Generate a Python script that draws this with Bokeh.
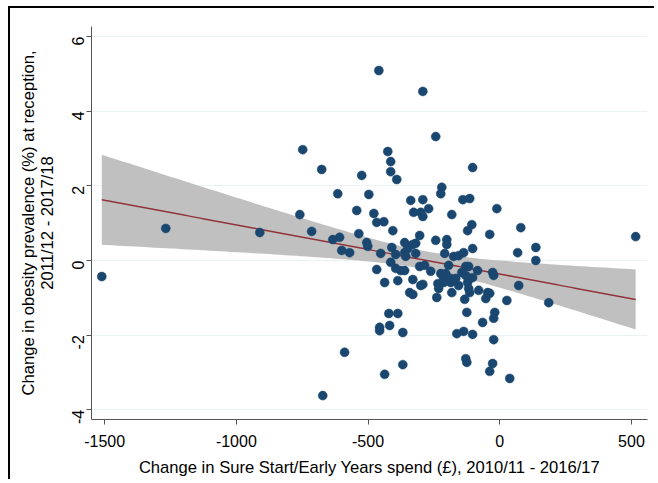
import math
import numpy as np
from bokeh.plotting import figure
from bokeh.models import ColumnDataSource, Range1d, FixedTicker
from bokeh.embed import file_html
from bokeh.resources import INLINE

# Change in Sure Start/Early Years spend (GBP), 2010/11 - 2016/17
spend_change = [
    -1511, -1268, -911, -748, -759, -714, -672, -676, 516, -459,
    -292, -243, -425, -414, -414, -391, -524, -103, -615, -497,
    -543, -478, -467, -440, -406, -338, -292, -327, -300, -270,
    -292, -220, -224, -182, -140, -114, -11, -122, -106, -38,
    80, 137, -243, -201, -201, -361, -319, -304, -608, -634,
    -535, -600, -570, -505, -501, -452, -410, -395, -361, -357,
    -319, -330, -349, -209, -175, -156, -137, -103, -467, -414,
    -395, -376, -361, -437, -387, -330, -292, -342, -330, -304,
    -285, -262, -224, -205, -194, -213, -186, -167, -235, -213,
    -186, -232, -182, -239, -156, -144, -129, -118, -129, -122,
    -118, -114, -103, -84, -80, -46, -53, -38, -27, -23,
    27, 68, 72, 137, 186, -133, -125, -19, -23, -65,
    -421, -387, -456, -456, -418, -368, -163, -137, -103, -23,
    -589, -129, -125, -27, -38, -368, -437, 38, -300,
]

# Change in obesity prevalence (%) at reception, 2011/12 - 2017/18
obesity_change = [
    -0.43, 0.86, 0.75, 2.97, 1.23, 0.78, -3.62, 2.44, 0.64, 5.09,
    4.53, 3.32, 2.92, 2.65, 2.38, 2.17, 2.28, 2.49, 1.79, 1.77,
    1.34, 1.26, 1.02, 1.04, 0.80, 1.61, 1.63, 1.29, 1.29, 1.39,
    1.18, 1.96, 1.79, 1.23, 1.63, 1.66, 1.39, 0.80, 0.96, 0.70,
    0.88, 0.35, 0.54, 0.56, 0.43, 0.48, 0.46, 0.67, 0.62, 0.56,
    0.72, 0.27, 0.21, 0.48, 0.38, 0.19, 0.35, 0.16, 0.21, 0.11,
    0.19, 0.43, 0.32, 0.19, 0.11, 0.13, 0.21, 0.32, -0.24, -0.05,
    -0.21, -0.27, -0.27, -0.59, -0.54, -0.51, -0.64, -0.86, -0.91, -0.16,
    -0.13, -0.29, -0.35, -0.35, -0.13, -0.48, -0.48, -0.48, -0.62, -0.59,
    -0.59, -0.75, -0.86, -0.99, -0.67, -0.32, -0.16, -0.16, -0.40, -0.59,
    -0.75, -0.86, -0.46, -0.27, -0.80, -0.86, -1.02, -0.88, -0.32, -0.40,
    -1.07, 0.21, -0.67, 0.00, -1.13, -1.04, -1.39, -1.39, -1.55, -1.66,
    -1.42, -1.42, -1.79, -1.88, -1.74, -1.93, -1.96, -1.90, -1.98, -2.12,
    -2.46, -2.63, -2.73, -2.76, -2.97, -2.79, -3.05, -3.16, -0.67,
]

x_ticks = [-1500, -1000, -500, 0, 500]
y_ticks = [-4, -2, 0, 2, 4, 6]

x = np.array(spend_change, dtype=float)
y = np.array(obesity_change, dtype=float)

# linear fit with 95% CI of the mean prediction (as Stata lfitci)
n = len(x)
b1, b0 = np.polyfit(x, y, 1)
resid = y - (b0 + b1 * x)
s = math.sqrt(np.sum(resid ** 2) / (n - 2))
xbar = x.mean()
sxx = np.sum((x - xbar) ** 2)
xf = np.linspace(x.min(), x.max(), 100)
yf = b0 + b1 * xf
se = s * np.sqrt(1.0 / n + (xf - xbar) ** 2 / sxx)
tval = 1.977
band = ColumnDataSource(dict(x=xf, lo=yf - tval * se, hi=yf + tval * se, y=yf))
pts = ColumnDataSource(dict(x=x, y=y))

p = figure(width=646, height=473, output_backend="svg", toolbar_location=None,
           x_range=Range1d(-1550, 561), y_range=Range1d(-4.26, 6.27),
           min_border_left=81, min_border_right=9, min_border_top=18,
           min_border_bottom=62)
p.styles = {"border-left": "2px solid black", "border-top": "2px solid black",
            "margin-left": "8px", "margin-top": "6px"}
p.outline_line_color = None
p.background_fill_color = "white"
p.border_fill_color = "white"

p.varea(x="x", y1="lo", y2="hi", source=band, fill_color="#C0C0C0", fill_alpha=1.0)
p.line(x="x", y="y", source=band, line_color="#90353B", line_width=1.5)
p.scatter(x="x", y="y", source=pts, size=9, fill_color="#1A476F",
          line_color="#1A476F", line_width=0.5)

font = "Liberation Sans"
for ax in (p.xaxis[0], p.yaxis[0]):
    ax.axis_line_color = "#555555"
    ax.major_tick_line_color = "#555555"
    ax.major_tick_out = 5
    ax.major_tick_in = 0
    ax.minor_tick_line_color = None
    ax.major_label_text_font = font
    ax.major_label_text_font_size = "16px"
    ax.major_label_text_color = "black"
    ax.axis_label_text_font = font
    ax.axis_label_text_font_size = "16.6px"
    ax.axis_label_text_font_style = "normal"
    ax.axis_label_text_color = "black"
    ax.axis_label_text_line_height = 1.0

p.xaxis[0].ticker = FixedTicker(ticks=x_ticks)
p.yaxis[0].ticker = FixedTicker(ticks=y_ticks)
p.xaxis[0].major_label_overrides = {t: str(t) for t in x_ticks}
p.yaxis[0].major_label_overrides = {t: str(t) for t in y_ticks}
p.yaxis[0].major_label_orientation = math.pi / 2
p.xaxis[0].major_label_standoff = 10
p.yaxis[0].major_label_standoff = 8
p.xaxis[0].axis_label_standoff = 8
p.yaxis[0].axis_label_standoff = 7
p.xaxis[0].axis_label = "Change in Sure Start/Early Years spend (£), 2010/11 - 2016/17"
p.yaxis[0].axis_label = "Change in obesity prevalence (%) at reception,\n2011/12 - 2017/18"

p.xgrid.grid_line_color = None
p.ygrid.grid_line_color = "#EAF2F3"
p.ygrid.grid_line_width = 1.2

open("out.html", "w").write(file_html(p, INLINE))
